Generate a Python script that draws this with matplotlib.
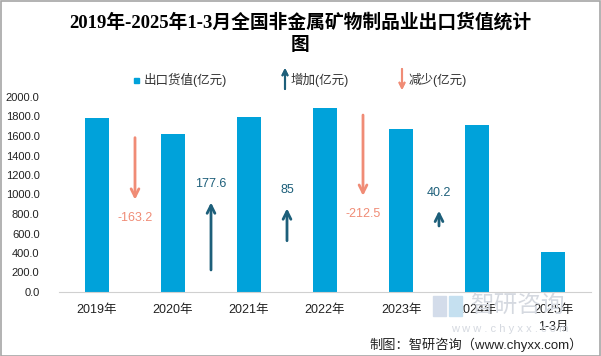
import matplotlib
matplotlib.use("Agg")
import matplotlib.pyplot as plt
from matplotlib.patches import Rectangle
import numpy as np

# data
years = ["2019年", "2020年", "2021年", "2022年", "2023年", "2024年", "2025年\n1-3月"]
export_value = [1785.1, 1621.9, 1799.5, 1884.5, 1672.0, 1712.2, 410.0]
changes = [-163.2, 177.6, 85, -212.5, 40.2]
change_labels = ["-163.2", "177.6", "85", "-212.5", "40.2"]
arrow_start = [1583, 226, 526, 1815, 677]   # where each arrow begins
arrow_scale = 3.9                           # arrow length per unit of change

BAR = "#00A2DA"
UP = "#1D5F7A"
DOWN = "#F08C76"
SANS = ["Liberation Sans", "Noto Sans CJK SC"]

plt.rcParams["font.family"] = SANS

fig = plt.figure(figsize=(6.01, 3.56), dpi=100)
W, H = 601, 356
ax = fig.add_axes([59 / W, 1 - 292 / H, 532 / W, 195 / H])

x = np.arange(len(years))
ax.bar(x, export_value, width=0.32, color=BAR, zorder=2)

# change arrows between bars
for i, (c, lab, s) in enumerate(zip(changes, change_labels, arrow_start)):
    xm = i + 0.5
    end = s + c * arrow_scale
    col = UP if c > 0 else DOWN
    ax.annotate("", xy=(xm, end), xytext=(xm, s),
                arrowprops=dict(arrowstyle="->", color=col, lw=2,
                                mutation_scale=14, shrinkA=0, shrinkB=0))
    off = 13 if c > 0 else -13
    ax.annotate(lab, xy=(xm, end), xytext=(0, off), textcoords="offset points",
                ha="center", va="center", fontsize=9, color=col)

ax.set_xlim(-0.5, len(years) - 0.5)
ax.set_ylim(0, 2000)
ax.set_yticks(np.arange(0, 2001, 200))
ax.set_yticklabels(["%.1f" % v for v in np.arange(0, 2001, 200)], fontsize=8, color="#222222")
ax.set_xticks(x)
ax.set_xticklabels(years, fontsize=9, color="#222222", linespacing=1.5, va="top")
ax.tick_params(axis="both", length=0)
ax.tick_params(axis="x", pad=9)
ax.tick_params(axis="y", pad=14)
for s in ["top", "right", "left"]:
    ax.spines[s].set_visible(False)
ax.spines["bottom"].set_color("#D0D0D0")

# title
fig.text(0.5, 1 - 22 / H, "2019年-2025年1-3月全国非金属矿物制品业出口货值统计",
         ha="center", va="center", fontsize=13.5, fontweight="bold",
         family=["Liberation Serif", "Noto Sans CJK SC"])
fig.text(0.5, 1 - 46 / H, "图", ha="center", va="center", fontsize=13.5,
         fontweight="bold", family=["Liberation Serif", "Noto Sans CJK SC"])

# legend drawn by hand
ly = 1 - 80 / H
fig.patches.append(Rectangle((134 / W, 1 - 83 / H), 5 / W, 5 / H,
                             transform=fig.transFigure, color=BAR))
fig.text(144 / W, ly, "出口货值(亿元)", va="center", fontsize=9, color="#333333")
fig.add_artist(plt.annotate("", xy=(285 / W, 1 - 68 / H), xytext=(285 / W, 1 - 89 / H),
                            xycoords="figure fraction",
                            arrowprops=dict(arrowstyle="->", color=UP, lw=1.5,
                                            mutation_scale=9, shrinkA=0, shrinkB=0)))
fig.text(291 / W, ly, "增加(亿元)", va="center", fontsize=9, color="#333333")
fig.add_artist(plt.annotate("", xy=(402 / W, 1 - 90 / H), xytext=(402 / W, 1 - 69 / H),
                            xycoords="figure fraction",
                            arrowprops=dict(arrowstyle="->", color=DOWN, lw=1.5,
                                            mutation_scale=9, shrinkA=0, shrinkB=0)))
fig.text(409 / W, ly, "减少(亿元)", va="center", fontsize=9, color="#333333")

# faint watermark (sits behind the labels, as in the reference)
fig.text(470 / W, 1 - 307 / H, "智研咨询", ha="left", va="center", fontsize=17,
         color="#D5D9E0", zorder=0)
fig.text(510 / W, 1 - 329 / H, "w w w . c h y x x . c o m", ha="center", va="center",
         fontsize=8, color="#D5D9E0", zorder=0)
fig.patches.append(Rectangle((433 / W, 1 - 316 / H), 13 / W, 20 / H,
                             transform=fig.transFigure, color="#D3DCEA", zorder=0))
fig.patches.append(Rectangle((449 / W, 1 - 316 / H), 13 / W, 20 / H,
                             transform=fig.transFigure, color="#C5E0F0", zorder=0))

# source
fig.text(583 / W, 1 - 345 / H, "制图：智研咨询（www.chyxx.com）", ha="right", va="center",
         fontsize=9.5, color="#222222")

# outer frame
fig.patches.append(Rectangle((0.001, 0.001), 0.997, 0.996, transform=fig.transFigure,
                             fill=False, edgecolor="#A6A6A6", lw=1.2))

fig.savefig("out.png", dpi=100)
